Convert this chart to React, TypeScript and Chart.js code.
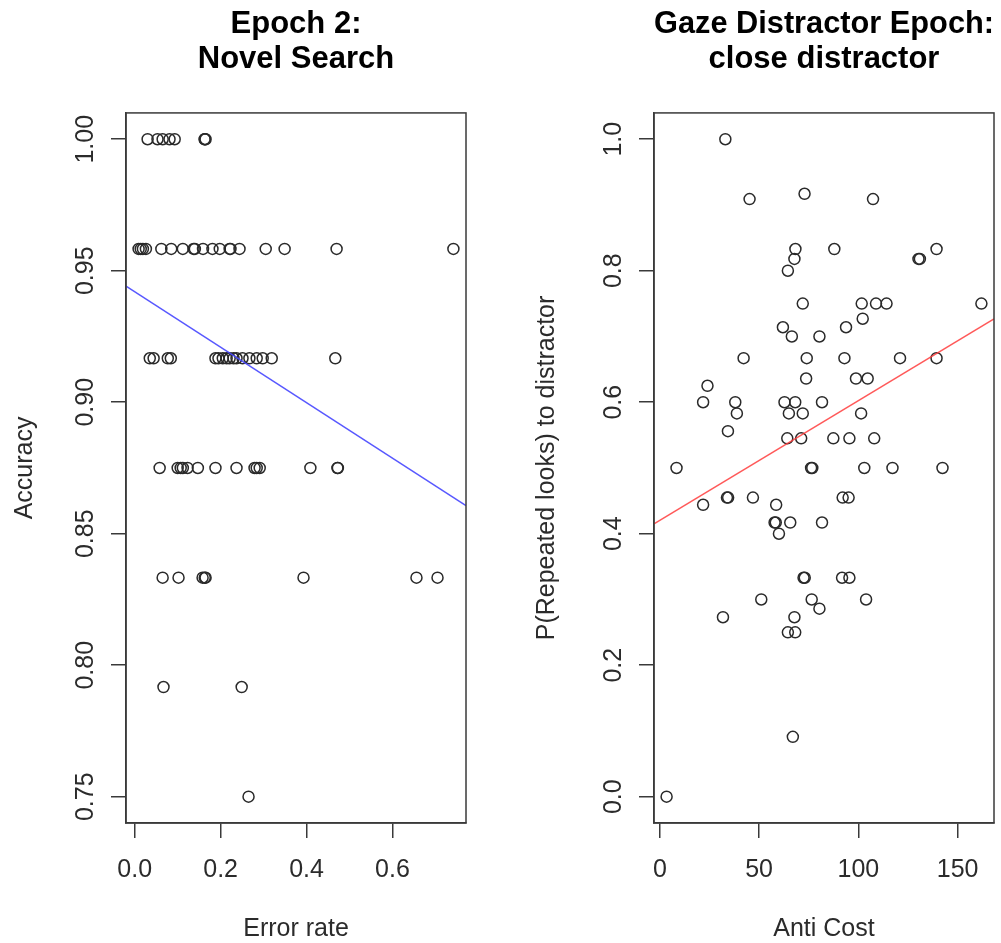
import React, { useEffect, useRef } from 'react';
import { Chart, registerables } from 'chart.js';

Chart.register(...registerables);

// ---------- Panel 1: Epoch 2: Novel Search ----------
const errorRate = [
  0.030, 0.053, 0.065, 0.081, 0.093, 0.163, 0.163, 0.165,
  0.009, 0.014, 0.019, 0.026, 0.062, 0.085, 0.112, 0.137, 0.140, 0.159, 0.181, 0.198, 0.221, 0.223, 0.244, 0.305, 0.349, 0.470, 0.742,
  0.035, 0.044, 0.077, 0.084, 0.188, 0.195, 0.205, 0.214, 0.221, 0.230, 0.237, 0.251, 0.267, 0.284, 0.298, 0.319, 0.467,
  0.058, 0.100, 0.107, 0.112, 0.123, 0.147, 0.188, 0.237, 0.279, 0.284, 0.291, 0.409, 0.472, 0.473,
  0.065, 0.102, 0.158, 0.163, 0.165, 0.393, 0.656, 0.705,
  0.067, 0.249,
  0.265,
];
const accuracy = [
  1.0, 1.0, 1.0, 1.0, 1.0, 1.0, 1.0, 1.0,
  0.9583, 0.9583, 0.9583, 0.9583, 0.9583, 0.9583, 0.9583, 0.9583, 0.9583, 0.9583, 0.9583, 0.9583, 0.9583, 0.9583, 0.9583, 0.9583, 0.9583, 0.9583, 0.9583,
  0.9167, 0.9167, 0.9167, 0.9167, 0.9167, 0.9167, 0.9167, 0.9167, 0.9167, 0.9167, 0.9167, 0.9167, 0.9167, 0.9167, 0.9167, 0.9167, 0.9167,
  0.875, 0.875, 0.875, 0.875, 0.875, 0.875, 0.875, 0.875, 0.875, 0.875, 0.875, 0.875, 0.875, 0.875,
  0.8333, 0.8333, 0.8333, 0.8333, 0.8333, 0.8333, 0.8333, 0.8333,
  0.7917, 0.7917,
  0.75,
];
const accuracyFit = { intercept: 0.942, slope: -0.1054 };
const leftTitle = ['Epoch 2:', 'Novel Search'];
const leftXLabel = 'Error rate';
const leftYLabel = 'Accuracy';

// ---------- Panel 2: Gaze Distractor Epoch: close distractor ----------
const antiCost = [
  33.0, 45.2, 72.9, 107.4,
  68.3, 87.9, 139.4, 130.3, 131.0, 67.8, 64.5,
  72.0, 101.7, 108.9, 114.2, 162.0, 102.2, 62.0, 66.5, 80.4, 93.8,
  42.2, 74.0, 93.0, 121.0, 139.4, 73.7, 98.8, 104.7, 24.0,
  21.8, 38.0, 62.8, 68.2, 81.7, 38.8, 65.0, 72.0, 101.4, 34.3,
  64.2, 71.2, 87.4, 95.5, 108.0,
  8.4, 76.2, 76.8, 103.0, 117.2, 142.4,
  21.8, 33.8, 34.4, 46.9, 58.6, 92.1, 95.1,
  57.8, 58.4, 65.7, 81.7, 60.0,
  72.4, 73.0, 91.8, 95.5, 51.1, 76.5, 103.9, 80.4, 31.8, 67.8, 64.5, 68.2,
  67.0, 3.4,
];
const repeatedLooks = [
  1.0, 0.909, 0.917, 0.909,
  0.833, 0.833, 0.833, 0.818, 0.818, 0.818, 0.8,
  0.75, 0.75, 0.75, 0.75, 0.75, 0.727, 0.714, 0.7, 0.7, 0.714,
  0.667, 0.667, 0.667, 0.667, 0.667, 0.636, 0.636, 0.636, 0.625,
  0.6, 0.6, 0.6, 0.6, 0.6, 0.583, 0.583, 0.583, 0.583, 0.556,
  0.545, 0.545, 0.545, 0.545, 0.545,
  0.5, 0.5, 0.5, 0.5, 0.5, 0.5,
  0.444, 0.455, 0.455, 0.455, 0.444, 0.455, 0.455,
  0.417, 0.417, 0.417, 0.417, 0.4,
  0.333, 0.333, 0.333, 0.333, 0.3, 0.3, 0.3, 0.286, 0.273, 0.273, 0.25, 0.25,
  0.091, 0.0,
];
const looksFit = { intercept: 0.4205, slope: 0.00182 };
const rightTitle = ['Gaze Distractor Epoch:', 'close distractor'];
const rightXLabel = 'Anti Cost';
const rightYLabel = 'P(Repeated looks) to distractor';

// ---------- styling ----------
const FONT = "'Liberation Sans', Arial, Helvetica, sans-serif";
const INK = '#2b2b2b';

function rRange(values: number[]): [number, number] {
  const mn = Math.min(...values);
  const mx = Math.max(...values);
  const pad = (mx - mn) * 0.04;
  return [mn - pad, mx + pad];
}

const framePlugin = {
  id: 'frame',
  afterDatasetsDraw(chart: any) {
    const { ctx, chartArea: a } = chart;
    ctx.save();
    ctx.strokeStyle = '#3a3a3a';
    ctx.lineWidth = 1.5;
    ctx.strokeRect(a.left, a.top, a.right - a.left, a.bottom - a.top);
    ctx.restore();
  },
};

interface PanelOpts {
  title: string[];
  xLabel: string;
  yLabel: string;
  xs: number[];
  ys: number[];
  fit: { intercept: number; slope: number };
  fitColor: string;
  xStep: number;
  yStep: number;
  xDecimals: number;
  yDecimals: number;
  yAxisWidth: number;
  yTickPadding: number;
  yTitlePad: number;
  rightPad: number;
}

function makeConfig(o: PanelOpts): any {
  const [xmin, xmax] = rRange(o.xs);
  const [ymin, ymax] = rRange(o.ys);
  const points = o.xs.map((x, i) => ({ x, y: o.ys[i] }));
  const fitLine = [xmin, xmax].map((x) => ({ x, y: o.fit.intercept + o.fit.slope * x }));
  const grid = {
    display: true,
    drawOnChartArea: false,
    drawTicks: true,
    tickLength: 15,
    color: '#3a3a3a',
    lineWidth: 1.5,
  };
  const border = { display: true, color: '#3a3a3a', width: 1.5 };
  const tickFont = { family: FONT, size: 25, lineHeight: 1.2 };
  const labelFont = { family: FONT, size: 25, lineHeight: 1 };
  return {
    type: 'scatter',
    data: {
      datasets: [
        {
          data: fitLine,
          showLine: true,
          borderColor: o.fitColor,
          borderWidth: 1.5,
          pointRadius: 0,
          pointHoverRadius: 0,
          fill: false,
        },
        {
          data: points,
          pointRadius: 5.5,
          pointHoverRadius: 5.5,
          pointBorderWidth: 1.5,
          borderColor: '#2a2a2a',
          backgroundColor: 'rgba(0,0,0,0)',
        },
      ],
    },
    options: {
      responsive: false,
      animation: false,
      events: [],
      layout: { padding: { left: 0, right: o.rightPad, top: 0, bottom: 0 } },
      plugins: {
        legend: { display: false },
        tooltip: { enabled: false },
        title: {
          display: true,
          text: o.title,
          fullSize: false,
          color: '#000',
          font: { family: FONT, size: 31, weight: 'bold', lineHeight: 1.16 },
          padding: { top: 6, bottom: 35 },
        },
      },
      scales: {
        x: {
          type: 'linear',
          position: 'bottom',
          min: xmin,
          max: xmax,
          afterFit: (s: any) => {
            s.height = 120;
          },
          ticks: {
            stepSize: o.xStep,
            includeBounds: false,
            autoSkip: false,
            maxRotation: 0,
            minRotation: 0,
            padding: 17,
            color: INK,
            font: tickFont,
            callback: (v: any) => Number(v).toFixed(o.xDecimals),
          },
          grid,
          border,
          title: {
            display: true,
            text: o.xLabel,
            color: INK,
            font: labelFont,
            padding: { top: 0, bottom: 1.5 },
          },
        },
        y: {
          type: 'linear',
          position: 'left',
          min: ymin,
          max: ymax,
          afterFit: (s: any) => {
            s.width = o.yAxisWidth;
          },
          ticks: {
            stepSize: o.yStep,
            includeBounds: false,
            autoSkip: false,
            minRotation: 90,
            maxRotation: 90,
            crossAlign: 'center',
            padding: o.yTickPadding,
            color: INK,
            font: tickFont,
            callback: (v: any) => Number(v).toFixed(o.yDecimals),
          },
          grid,
          border,
          title: {
            display: true,
            text: o.yLabel,
            color: INK,
            font: labelFont,
            padding: { top: o.yTitlePad, bottom: 0 },
          },
        },
      },
    },
    plugins: [framePlugin],
  };
}

function Panel({ opts, left, width }: { opts: PanelOpts; left: number; width: number }) {
  const ref = useRef<HTMLCanvasElement | null>(null);
  useEffect(() => {
    if (!ref.current) return;
    const chart = new Chart(ref.current, makeConfig(opts));
    return () => chart.destroy();
  }, []);
  return (
    <canvas
      ref={ref}
      width={width}
      height={943}
      style={{ position: 'absolute', left, top: 0, width, height: 943, display: 'block' }}
    />
  );
}

export default function App() {
  const leftOpts: PanelOpts = {
    title: leftTitle,
    xLabel: leftXLabel,
    yLabel: leftYLabel,
    xs: errorRate,
    ys: accuracy,
    fit: accuracyFit,
    fitColor: 'rgba(70,70,255,0.9)',
    xStep: 0.2,
    yStep: 0.05,
    xDecimals: 1,
    yDecimals: 2,
    yAxisWidth: 126,
    yTickPadding: 1,
    yTitlePad: 13,
    rightPad: 34,
  };
  const rightOpts: PanelOpts = {
    title: rightTitle,
    xLabel: rightXLabel,
    yLabel: rightYLabel,
    xs: antiCost,
    ys: repeatedLooks,
    fit: looksFit,
    fitColor: 'rgba(255,60,60,0.85)',
    xStep: 50,
    yStep: 0.2,
    xDecimals: 0,
    yDecimals: 1,
    yAxisWidth: 154,
    yTickPadding: 8,
    yTitlePad: 35,
    rightPad: 6,
  };
  return (
    <div style={{ position: 'absolute', left: 0, top: 0, width: 1001, height: 943, background: '#fff', overflow: 'hidden' }}>
      <Panel opts={leftOpts} left={0} width={500} />
      <Panel opts={rightOpts} left={500} width={501} />
    </div>
  );
}
